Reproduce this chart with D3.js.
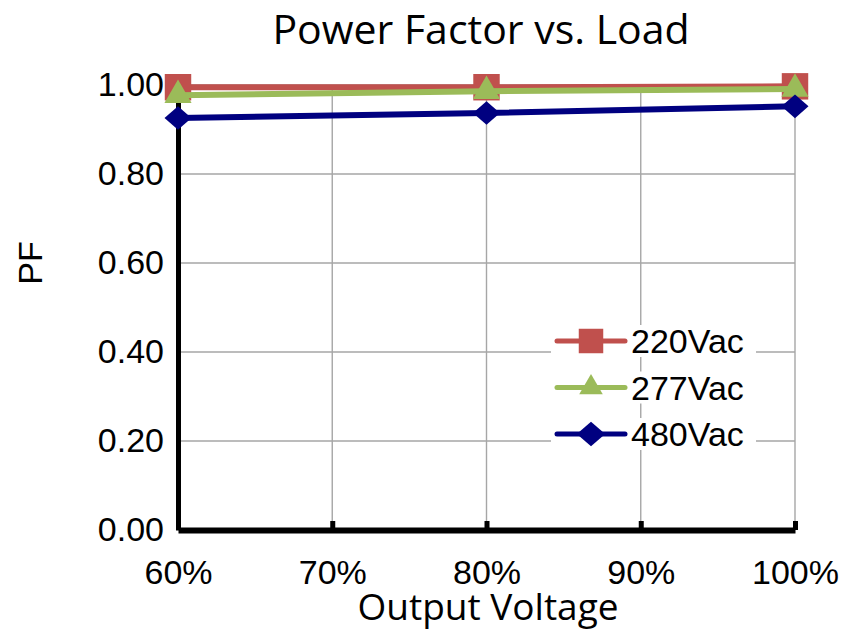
<!DOCTYPE html>
<html lang="en">
<head>
<meta charset="UTF-8">
<title>Power Factor vs. Load</title>
<script src="https://d3js.org/d3.v7.min.js"></script>
<style>
  body { margin: 0; background: #fff; }
  .tick text { font-family: "Liberation Sans", Arial, sans-serif; }
</style>
</head>
<body>
<div id="chart"></div>
<script>
// data
const loads = [0.6, 0.8, 1.0];
const xTicks = [0.6, 0.7, 0.8, 0.9, 1.0];
const yTicks = [0, 0.2, 0.4, 0.6, 0.8, 1.0];
const seriesNames = ["220Vac", "277Vac", "480Vac"];
const pf220 = [0.995, 0.995, 0.997];
const pf277 = [0.977, 0.986, 0.991];
const pf480 = [0.926, 0.937, 0.952];

const width = 845, height = 632;
const margin = {top: 85, right: 50, bottom: 102, left: 178};

const svg = d3.select("#chart").append("svg")
    .attr("width", width)
    .attr("height", height);

const x = d3.scaleLinear().domain([0.6, 1.0]).range([margin.left, width - margin.right]);
const y = d3.scaleLinear().domain([0, 1]).range([height - margin.bottom, margin.top]);

// diamond like the spreadsheet marker: rotated square, a bit wider than tall
const diamond = {
  draw(ctx, size) {
    const w = Math.sqrt(size) * 0.78, h = Math.sqrt(size) * 0.68;
    ctx.moveTo(0, -h); ctx.lineTo(w, 0); ctx.lineTo(0, h); ctx.lineTo(-w, 0); ctx.closePath();
  }
};

// gridlines
svg.append("g")
    .selectAll("line")
    .data(xTicks.slice(1))
    .enter().append("line")
    .attr("x1", d => x(d)).attr("x2", d => x(d))
    .attr("y1", y(1)).attr("y2", y(0))
    .attr("stroke", "#a6a6a6").attr("stroke-width", 1.4);

svg.append("g")
    .selectAll("line")
    .data(yTicks.slice(1))
    .enter().append("line")
    .attr("x1", x(0.6)).attr("x2", x(1))
    .attr("y1", d => y(d)).attr("y2", d => y(d))
    .attr("stroke", "#a6a6a6").attr("stroke-width", 1.4);

// x axis
const xAxis = svg.append("g")
    .attr("transform", `translate(0,${y(0)})`)
    .call(d3.axisBottom(x).tickValues(xTicks).tickFormat(d3.format(".0%")).tickSizeInner(-9).tickSizeOuter(0).tickPadding(30));
xAxis.select(".domain").attr("stroke", "#000").attr("stroke-width", 6);
xAxis.selectAll(".tick line").attr("stroke", "#000").attr("stroke-width", 5);
xAxis.selectAll(".tick text").attr("font-size", 34).attr("fill", "#000");

// y axis
const yAxis = svg.append("g")
    .attr("transform", `translate(${x(0.6)},0)`)
    .call(d3.axisLeft(y).tickValues(yTicks).tickFormat(d3.format(".2f")).tickSize(0).tickPadding(14));
yAxis.select(".domain").attr("stroke", "#000").attr("stroke-width", 5);
yAxis.selectAll(".tick text").attr("font-size", 34).attr("fill", "#000");

// series
const series = [
  {name: seriesNames[0], values: pf220, color: "#c0504d", shape: d3.symbolSquare, size: 700, legendSize: 600},
  {name: seriesNames[1], values: pf277, color: "#9bbb59", shape: d3.symbolTriangle, size: 320, legendSize: 240},
  {name: seriesNames[2], values: pf480, color: "#000080", shape: diamond, size: 300, legendSize: 330}
];

const line = d3.line().x((d, i) => x(loads[i])).y(d => y(d));

series.forEach(s => {
  const g = svg.append("g");
  g.append("path")
    .datum(s.values)
    .attr("d", line)
    .attr("fill", "none")
    .attr("stroke", s.color)
    .attr("stroke-width", 6);
  g.selectAll("path.m")
    .data(s.values)
    .enter().append("path")
    .attr("class", "m")
    .attr("transform", (d, i) => `translate(${x(loads[i])},${y(d)})`)
    .attr("d", d3.symbol().type(s.shape).size(s.size))
    .attr("fill", s.color);
});

// legend
const legend = svg.append("g").attr("transform", "translate(555,341)");
series.forEach((s, i) => {
  const row = legend.append("g").attr("transform", `translate(0,${i * 46.5})`);
  row.append("rect").attr("x", -4).attr("y", -16).attr("width", 205).attr("height", 32).attr("fill", "#fff");
  row.append("line").attr("x1", 2).attr("x2", 70).attr("y1", 0).attr("y2", 0)
    .attr("stroke", s.color).attr("stroke-width", 5).attr("stroke-linecap", "round");
  row.append("path").attr("transform", "translate(36,0)")
    .attr("d", d3.symbol().type(s.shape).size(s.legendSize))
    .attr("fill", s.color);
  row.append("text").attr("x", 76).attr("y", 12)
    .attr("font-family", "Liberation Sans, Arial, sans-serif")
    .attr("font-size", 34)
    .text(s.name);
});

// titles
svg.append("text")
    .attr("x", 481).attr("y", 44)
    .attr("text-anchor", "middle")
    .attr("font-family", "Open Sans, Noto Sans, sans-serif")
    .attr("font-size", 41)
    .text("Power Factor vs. Load");

svg.append("text")
    .attr("x", 488).attr("y", 620)
    .attr("text-anchor", "middle")
    .attr("font-family", "Open Sans, Noto Sans, sans-serif")
    .attr("font-size", 37)
    .text("Output Voltage");

svg.append("text")
    .attr("transform", `translate(42,${y(0.6)}) rotate(-90)`)
    .attr("text-anchor", "middle")
    .attr("font-family", "Liberation Sans, Arial, sans-serif")
    .attr("font-size", 34)
    .text("PF");
</script>
</body>
</html>
